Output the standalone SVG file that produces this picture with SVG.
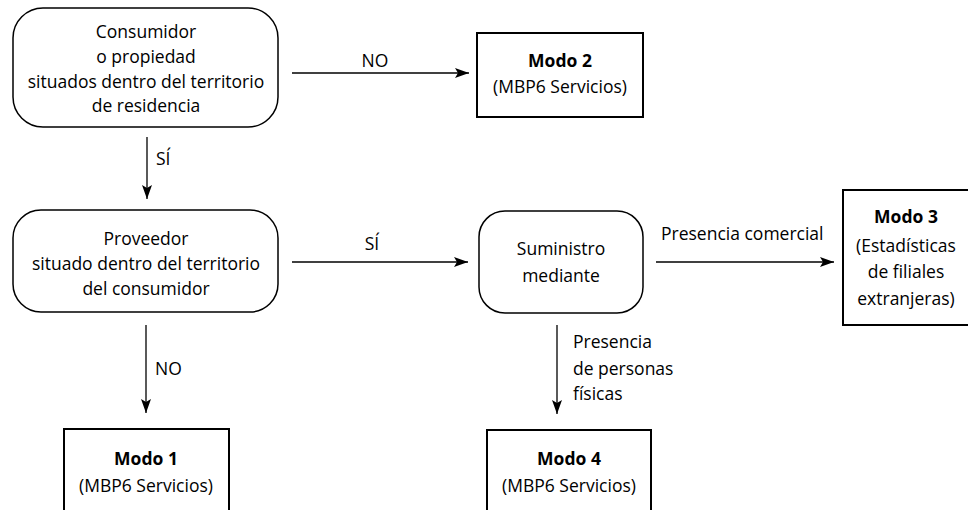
<svg xmlns="http://www.w3.org/2000/svg" width="968" height="510" viewBox="0 0 968 510">
<defs>
<style>
text{font-family:"Open Sans","Noto Sans","Liberation Sans",sans-serif;font-size:17.5px;fill:#000}
.c{text-anchor:middle}
.b{font-weight:bold}
.round{fill:#fff;stroke:#000;stroke-width:1.5}
.rect{fill:#fff;stroke:#000;stroke-width:2}
.edge{stroke:#000;stroke-width:1.3;fill:none}
</style>
<marker id="ah" markerWidth="14" markerHeight="10" viewBox="0 0 14 10" refX="14" refY="5" orient="auto" markerUnits="userSpaceOnUse">
<path d="M0,0 L14,5 L0,10 L3,5 Z" fill="#000"/>
</marker>
</defs>
<rect width="968" height="510" fill="#fff"/>
<g id="connectors">
<line class="edge" x1="292" y1="73" x2="469" y2="73" marker-end="url(#ah)"/>
<text class="c" x="375" y="67">NO</text>
<line class="edge" x1="147" y1="137" x2="147" y2="199" marker-end="url(#ah)"/>
<text x="156" y="165">SÍ</text>
<line class="edge" x1="292" y1="262" x2="468" y2="262" marker-end="url(#ah)"/>
<text class="c" x="372" y="250">SÍ</text>
<line class="edge" x1="656" y1="262" x2="834" y2="262" marker-end="url(#ah)"/>
<text x="661" y="240">Presencia comercial</text>
<line class="edge" x1="146" y1="325" x2="146" y2="413" marker-end="url(#ah)"/>
<text x="155" y="375">NO</text>
<line class="edge" x1="557" y1="325" x2="557" y2="414" marker-end="url(#ah)"/>
<text x="573" y="348">Presencia</text>
<text x="573" y="375">de personas</text>
<text x="573" y="400">físicas</text>
</g>
<g id="consumidor">
<rect class="round" x="13" y="8" width="265" height="119" rx="30"/>
<text class="c" x="146" y="38">Consumidor</text>
<text class="c" x="146" y="63">o propiedad</text>
<text class="c" x="146" y="88">situados dentro del territorio</text>
<text class="c" x="146" y="112">de residencia</text>
</g>
<g id="modo2">
<rect class="rect" x="477" y="33" width="166" height="84"/>
<text class="c b" x="560" y="67">Modo 2</text>
<text class="c" x="560" y="93">(MBP6 Servicios)</text>
</g>
<g id="proveedor">
<rect class="round" x="13" y="210" width="265" height="102" rx="28"/>
<text class="c" x="146" y="245">Proveedor</text>
<text class="c" x="146" y="270">situado dentro del territorio</text>
<text class="c" x="146" y="295">del consumidor</text>
</g>
<g id="suministro">
<rect class="round" x="479" y="211" width="164" height="102" rx="26"/>
<text class="c" x="561" y="255">Suministro</text>
<text class="c" x="561" y="282">mediante</text>
</g>
<g id="modo3">
<rect class="rect" x="843" y="190" width="135" height="135"/>
<text class="c b" x="906" y="223">Modo 3</text>
<text class="c" x="906" y="252">(Estadísticas</text>
<text class="c" x="906" y="278">de filiales</text>
<text class="c" x="906" y="305">extranjeras)</text>
</g>
<g id="modo1">
<rect class="rect" x="64" y="429" width="165" height="95"/>
<text class="c b" x="146" y="465">Modo 1</text>
<text class="c" x="146" y="492">(MBP6 Servicios)</text>
</g>
<g id="modo4">
<rect class="rect" x="487" y="430" width="164" height="95"/>
<text class="c b" x="569" y="465">Modo 4</text>
<text class="c" x="569" y="492">(MBP6 Servicios)</text>
</g>
</svg>
